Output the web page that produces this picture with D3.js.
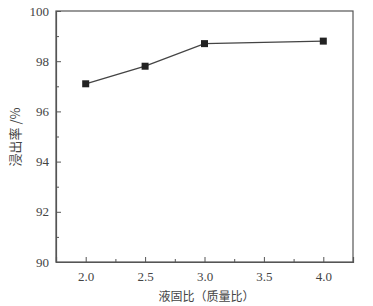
<!DOCTYPE html>
<html>
<head>
<meta charset="utf-8">
<script src="https://cdn.jsdelivr.net/npm/d3@7"></script>
<style>
  body { margin: 0; background: #fff; }
</style>
</head>
<body>
<div class="container"></div>
<script>
// liquid-solid ratio vs leaching rate
const ratios = [2.0, 2.5, 3.0, 4.0];
const leachRate = [97.1, 97.8, 98.7, 98.8];
const xTicks = [2.0, 2.5, 3.0, 3.5, 4.0];
const yTicks = [90, 92, 94, 96, 98, 100];

const W = 373, H = 306;
const margin = { top: 11, right: 20, bottom: 44, left: 56 };
const width = W - margin.left - margin.right;
const height = H - margin.top - margin.bottom;

const serif = "'Liberation Serif', 'Times New Roman', 'DejaVu Serif', serif";

const svg = d3.select(".container")
  .append("svg")
  .attr("width", W)
  .attr("height", H);

const g = svg.append("g")
  .attr("transform", `translate(${margin.left}, ${margin.top})`);

const x = d3.scaleLinear().domain([1.75, 4.25]).range([0, width]);
const y = d3.scaleLinear().domain([90, 100]).range([height, 0]);

// frame
g.append("rect")
  .attr("width", width)
  .attr("height", height)
  .attr("fill", "none")
  .attr("stroke", "#555")
  .attr("stroke-width", 1.2);

// x axis, ticks pointing inward
g.append("g")
  .attr("transform", `translate(0, ${height})`)
  .call(d3.axisBottom(x).tickValues(xTicks).tickSize(-5).tickPadding(10)
    .tickFormat(d3.format(".1f")))
  .attr("font-family", serif)
  .attr("font-size", 13);
g.append("g")
  .attr("transform", `translate(0, ${height})`)
  .call(d3.axisBottom(x).tickValues([2.25, 2.75, 3.25, 3.75]).tickSize(-3).tickFormat(""))
  .call((a) => a.select(".domain").remove());

// y axis
g.append("g")
  .call(d3.axisLeft(y).tickValues(yTicks).tickSize(-5).tickPadding(7))
  .attr("font-family", serif)
  .attr("font-size", 13);
g.append("g")
  .call(d3.axisLeft(y).tickValues([91, 93, 95, 97, 99]).tickSize(-3).tickFormat(""))
  .call((a) => a.select(".domain").remove());

g.selectAll(".domain").attr("stroke", "#555").attr("stroke-width", 1.2);
g.selectAll(".tick line").attr("stroke", "#555");
g.selectAll(".tick text").attr("fill", "#444");

// line + square markers
const pts = ratios.map((r, i) => ({ r, v: leachRate[i] }));

g.append("path")
  .datum(pts)
  .attr("fill", "none")
  .attr("stroke", "#444")
  .attr("stroke-width", 1.3)
  .attr("d", d3.line().x((d) => x(d.r)).y((d) => y(d.v)));

g.selectAll("rect.pt")
  .data(pts)
  .enter()
  .append("rect")
  .attr("class", "pt")
  .attr("x", (d) => x(d.r) - 3.5)
  .attr("y", (d) => y(d.v) - 3.5)
  .attr("width", 7)
  .attr("height", 7)
  .attr("fill", "#222");

// axis titles
svg.append("text")
  .attr("x", margin.left + x(3.0) + 2)
  .attr("y", 301)
  .attr("text-anchor", "middle")
  .attr("fill", "#444")
  .style("font-family", "'Noto Sans CJK SC', sans-serif")
  .style("font-size", "12px")
  .text("液固比（质量比）");

svg.append("text")
  .attr("transform", `translate(20, 137) rotate(-90)`)
  .attr("text-anchor", "middle")
  .attr("fill", "#444")
  .style("font-family", "'Noto Sans CJK SC', sans-serif")
  .style("font-size", "13px")
  .text("浸出率 /%");
</script>
</body>
</html>
